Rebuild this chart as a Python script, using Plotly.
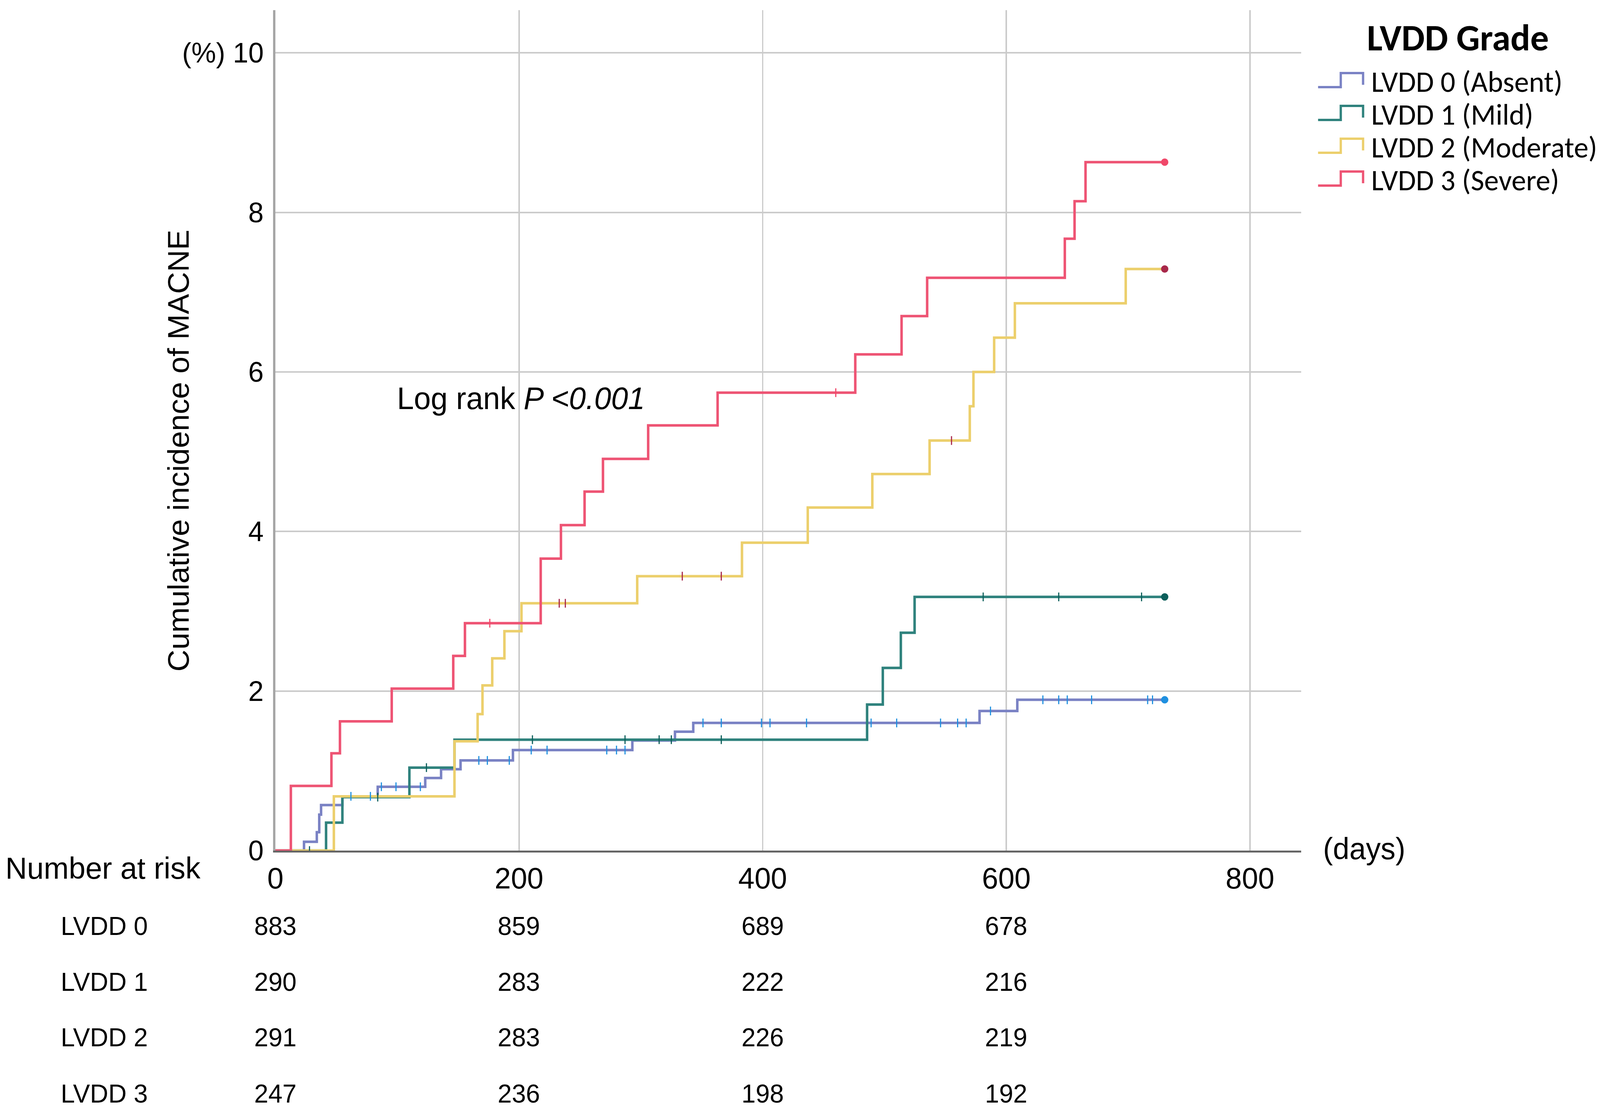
import numpy as np
import plotly.graph_objects as go

# ---------------- data ----------------
group_names = ["LVDD 0 (Absent)", "LVDD 1 (Mild)", "LVDD 2 (Moderate)", "LVDD 3 (Severe)"]
short_names = ["LVDD 0", "LVDD 1", "LVDD 2", "LVDD 3"]

t_lvdd0 = [0, 23.5, 34, 36, 37.5, 55, 84, 123, 136, 152, 195, 293, 328, 343, 578, 609, 730]
y_lvdd0 = [0, 0.11, 0.23, 0.45, 0.57, 0.68, 0.80, 0.91, 1.02, 1.13, 1.26, 1.38, 1.49, 1.60, 1.75, 1.89, 1.89]

t_lvdd1 = [0, 41.6, 55, 110, 147, 485.7, 498.6, 513.4, 524.7, 730]
y_lvdd1 = [0, 0.35, 0.67, 1.04, 1.39, 1.83, 2.29, 2.73, 3.18, 3.18]

t_lvdd2 = [0, 48, 147, 166, 170, 178, 188, 202, 297, 383, 437, 490, 537, 570, 573, 590, 607, 698, 730]
y_lvdd2 = [0, 0.68, 1.37, 1.71, 2.07, 2.41, 2.75, 3.10, 3.44, 3.86, 4.30, 4.72, 5.14, 5.57, 6.00, 6.43, 6.86, 7.29, 7.29]

t_lvdd3 = [0, 12.7, 46, 53, 95.5, 146, 155.6, 217.8, 234.4, 253.8, 268.9, 306, 363, 476, 514, 535, 648, 656, 665, 730]
y_lvdd3 = [0, 0.81, 1.22, 1.62, 2.03, 2.44, 2.85, 3.66, 4.08, 4.50, 4.91, 5.33, 5.74, 6.22, 6.70, 7.18, 7.67, 8.14, 8.63, 8.63]

# censored observation times
cens_lvdd0 = [62, 78, 87, 99, 119, 167, 174, 192, 210, 223, 272, 280, 287, 351, 366, 399, 406, 436,
              489, 510, 546, 560, 567, 587, 630, 643, 650, 670, 716, 720, 730]
cens_lvdd1 = [28, 84, 124, 211, 287, 315, 325, 366, 581, 643, 711, 730]
cens_lvdd2 = [233, 238, 334, 366, 555, 730]
cens_lvdd3 = [176, 460, 730]

x_ticks = [0, 200, 400, 600, 800]
y_ticks = [0, 2, 4, 6, 8, 10]
y_ticktext = ["0", "2", "4", "6", "8", "(%) 10"]

risk_times = [0, 200, 400, 600]
risk_lvdd0 = [883, 859, 689, 678]
risk_lvdd1 = [290, 283, 222, 216]
risk_lvdd2 = [291, 283, 226, 219]
risk_lvdd3 = [247, 236, 198, 192]

# ---------------- style ----------------
line_colors = ["#7a82c4", "#2f827d", "#eccf6c", "#ee5474"]
cens_colors = ["#1f90e0", "#0d5f5b", "#a8284a", "#f0486a"]
FONT = "Liberation Sans, Arial, sans-serif"
LEG_FONT = "Carlito, Lato, sans-serif"

W, H = 4160, 2841
L, R, T, B = 716, 777, 26, 664
PW, PH = W - L - R, H - T - B


def px(x):
    return (x - L) / PW


def py(y):
    return (H - B - y) / PH


curves_t = [t_lvdd0, t_lvdd1, t_lvdd2, t_lvdd3]
curves_y = [y_lvdd0, y_lvdd1, y_lvdd2, y_lvdd3]
cens = [cens_lvdd0, cens_lvdd1, cens_lvdd2, cens_lvdd3]
risks = [risk_lvdd0, risk_lvdd1, risk_lvdd2, risk_lvdd3]

fig = go.Figure()
for i in range(4):
    fig.add_trace(go.Scatter(
        x=curves_t[i], y=curves_y[i], mode="lines", name=group_names[i],
        line=dict(color=line_colors[i], width=6.5, shape="hv"), showlegend=False,
    ))
for i in range(4):
    ts = np.array(curves_t[i])
    ys = np.array(curves_y[i])
    c = np.array(cens[i], dtype=float)
    idx = np.searchsorted(ts, c, side="right") - 1
    cy = ys[idx]
    symbols = ["line-ns" if v < 730 else "circle" for v in c]
    fig.add_trace(go.Scatter(
        x=c, y=cy, mode="markers", showlegend=False, hoverinfo="skip",
        marker=dict(symbol=symbols, size=16, color=cens_colors[i],
                    line=dict(color=cens_colors[i], width=3)),
    ))

annotations = []
# y title
annotations.append(dict(text="Cumulative incidence of MACNE", xref="paper", yref="paper",
                        x=px(464), y=py(1154), textangle=-90, showarrow=False,
                        font=dict(family=FONT, size=78, color="black"),
                        xanchor="center", yanchor="middle"))
# (days)
annotations.append(dict(text="(days)", xref="paper", yref="paper", x=px(3438), y=py(2172),
                        showarrow=False, xanchor="left", yanchor="middle",
                        font=dict(family=FONT, size=77, color="black")))
# log rank
annotations.append(dict(text="Log rank <i>P &lt;0.001</i>", xref="paper", yref="paper",
                        x=px(1030), y=py(1020), showarrow=False, xanchor="left", yanchor="middle",
                        font=dict(family=FONT, size=79, color="black")))
# number at risk
annotations.append(dict(text="Number at risk", xref="paper", yref="paper", x=px(12), y=py(2222),
                        showarrow=False, xanchor="left", yanchor="middle",
                        font=dict(family=FONT, size=78, color="black")))
row_y = [2370, 2513, 2655, 2799]
for i in range(4):
    annotations.append(dict(text=short_names[i], xref="paper", yref="paper", x=px(156), y=py(row_y[i]),
                            showarrow=False, xanchor="left", yanchor="middle",
                            font=dict(family=FONT, size=66, color="black")))
    for t, n in zip(risk_times, risks[i]):
        annotations.append(dict(text=str(n), xref="x", yref="paper", x=t, y=py(row_y[i]),
                                showarrow=False, xanchor="center", yanchor="middle",
                                font=dict(family=FONT, size=66, color="black")))
# custom legend
annotations.append(dict(text="<b>LVDD Grade</b>", xref="paper", yref="paper", x=px(3790), y=py(96),
                        showarrow=False, xanchor="center", yanchor="middle",
                        font=dict(family=LEG_FONT, size=96, color="black")))
leg_y = [209, 293, 377, 461]
shapes = []
for i in range(4):
    annotations.append(dict(text=group_names[i], xref="paper", yref="paper", x=px(3563), y=py(leg_y[i]),
                            showarrow=False, xanchor="left", yanchor="middle",
                            font=dict(family=LEG_FONT, size=76, color="black")))
    cy = leg_y[i]
    path = "M {} {} L {} {} L {} {} L {} {} L {} {}".format(
        px(3427), py(cy + 14), px(3486), py(cy + 14), px(3486), py(cy - 22),
        px(3544), py(cy - 22), px(3544), py(cy + 8))
    shapes.append(dict(type="path", path=path, xref="paper", yref="paper",
                       line=dict(color=line_colors[i], width=6)))

fig.update_layout(
    width=W, height=H, autosize=False,
    margin=dict(l=L, r=R, t=T, b=B),
    paper_bgcolor="white", plot_bgcolor="white",
    showlegend=False,
    annotations=annotations, shapes=shapes,
    xaxis=dict(range=[0, 842], tickvals=x_ticks, showgrid=True, gridcolor="#cbcbcb", gridwidth=4,
               zeroline=False, showline=True, linecolor="#666666", linewidth=5,
               ticks="outside", ticklen=1, tickcolor="rgba(0,0,0,0)",
               tickfont=dict(family=FONT, size=76, color="black"), fixedrange=True),
    yaxis=dict(range=[0, 10.535], tickvals=y_ticks, ticktext=y_ticktext, showgrid=True,
               gridcolor="#cbcbcb", gridwidth=4, zeroline=False, showline=True,
               linecolor="#a6a6a6", linewidth=6, ticks="outside", ticklen=10,
               tickcolor="rgba(0,0,0,0)",
               tickfont=dict(family=FONT, size=72, color="black"), fixedrange=True),
)

post = ("document.documentElement.style.margin='0';document.body.style.margin='0';"
        "document.documentElement.style.overflow='hidden';document.body.style.overflow='hidden';"
        "var gd=document.getElementById('{plot_id}');"
        "function fitPlot(){var sx=window.innerWidth/" + str(W) + ";var sy=window.innerHeight/" + str(H) + ";"
        "gd.style.transformOrigin='0 0';gd.style.transform='scale('+sx+','+sy+')';}"
        "fitPlot();window.addEventListener('resize',fitPlot);")
fig.write_html("out.html", config={"displayModeBar": False}, post_script=post)
